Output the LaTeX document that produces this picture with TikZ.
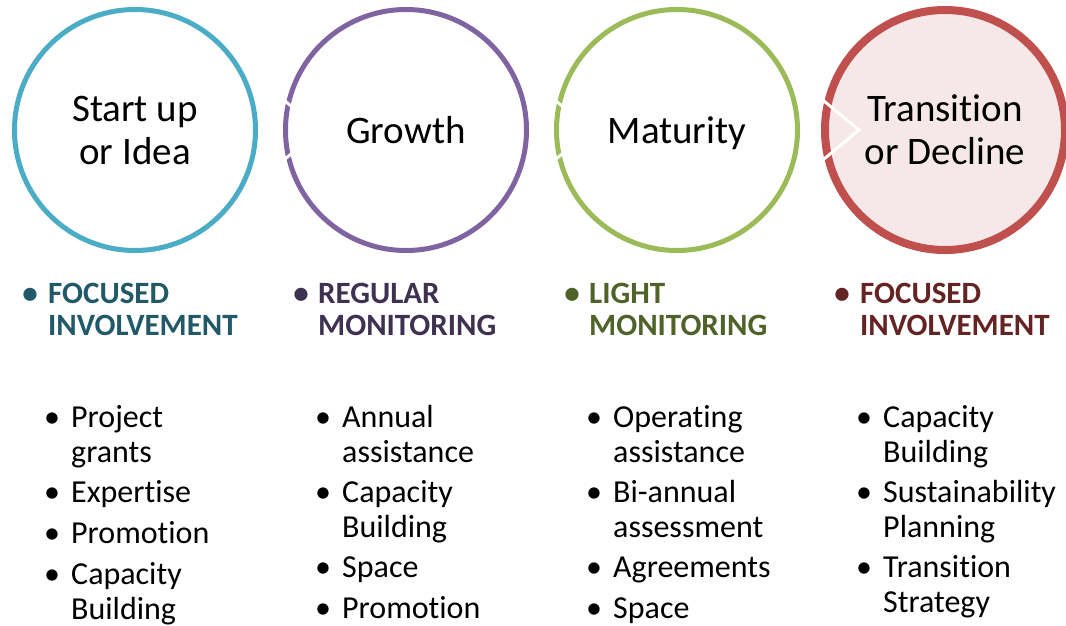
\documentclass[tikz,border=0pt]{standalone}
\usepackage{fontspec}
\setmainfont{Carlito}[Ligatures=NoCommon]
\usetikzlibrary{calc}
\definecolor{cteal}{HTML}{4BACC6}
\definecolor{cpurple}{HTML}{8064A2}
\definecolor{cgreen}{HTML}{9BBB59}
\definecolor{cred}{HTML}{C0504D}
\definecolor{dteal}{HTML}{215968}
\definecolor{dpurple}{HTML}{3F3151}
\definecolor{dgreen}{HTML}{4F6228}
\definecolor{dred}{HTML}{632423}
\definecolor{pinkfill}{HTML}{F6E8E8}
\begin{document}
\begin{tikzpicture}[x=1pt,y=-1pt,
  circ/.style={circle, inner sep=0pt, minimum size=241pt, align=center,
    font=\fontsize{39}{43}\selectfont, line width=5pt},
  chev/.style={white, line width=3pt},
  head/.style={anchor=base west, align=left, inner sep=0pt,
    font=\fontsize{31}{32}\selectfont\bfseries},
  hdot/.style={anchor=base, inner sep=0pt, font=\fontsize{31}{32}\selectfont\bfseries},
  itemtext/.style={anchor=base west, align=left, inner sep=0pt,
    font=\fontsize{32}{35}\selectfont},
  idot/.style={anchor=base, inner sep=0pt, font=\fontsize{32}{35}\selectfont}]
\useasboundingbox[fill=white] (0,0) rectangle (1066,625);

% circles
\node[circ, draw=cteal] (c1) at (135,130) {Start up\\or Idea};
\node[circ, draw=cpurple] (c2) at (406,130) {Growth};
\node[circ, draw=cgreen] (c3) at (677,130) {\raisebox{0pt}[\height][0pt]{Maturity}};
\node[circ, draw=cred, fill=pinkfill, line width=8pt, minimum size=240pt] (c4) at (945,130) {Transition\\or Decline};

% chevron cut lines
\foreach \c in {c2,c3,c4}{
  \draw[chev] ($(\c.center)+(-127,-34)$) -- ($(\c.center)+(-86,0)$) -- ($(\c.center)+(-127,34)$);
}

% headings (base anchor = baseline of last line)
\node[hdot, text=dteal] (h1d) at (30,303) {•};
\node[head, text=dteal] (h1) at (48,335) {FOCUSED\\INVOLVEMENT};
\node[hdot, text=dpurple] (h2d) at (301,303) {•};
\node[head, text=dpurple] (h2) at (318,335) {REGULAR\\MONITORING};
\node[hdot, text=dgreen] (h3d) at (572,303) {•};
\node[head, text=dgreen] (h3) at (589,335) {LIGHT\\MONITORING};
\node[hdot, text=dred] (h4d) at (842,303) {•};
\node[head, text=dred] (h4) at (860,335) {FOCUSED\\INVOLVEMENT};

% column 1
\node[idot] (a1d) at (52,427) {•};
\node[itemtext] (a1) at (71,462) {Project\\grants};
\node[idot] (a2d) at (52,502) {•};
\node[itemtext] (a2) at (71,502) {Expertise};
\node[idot] (a3d) at (52,543) {•};
\node[itemtext] (a3) at (71,543) {Promotion};
\node[idot] (a4d) at (52,584) {•};
\node[itemtext] (a4) at (71,619) {Capacity\\Building};

% column 2
\node[idot] (b1d) at (323,427) {•};
\node[itemtext] (b1) at (342,462) {Annual\\assistance};
\node[idot] (b2d) at (323,502) {•};
\node[itemtext] (b2) at (342,537) {Capacity\\Building};
\node[idot] (b3d) at (323,577) {•};
\node[itemtext] (b3) at (342,577) {Space};
\node[idot] (b4d) at (323,618) {•};
\node[itemtext] (b4) at (342,618) {Promotion};

% column 3
\node[idot] (e1d) at (594,427) {•};
\node[itemtext] (e1) at (613,462) {Operating\\assistance};
\node[idot] (e2d) at (594,502) {•};
\node[itemtext] (e2) at (613,537) {Bi-annual\\assessment};
\node[idot] (e3d) at (594,577) {•};
\node[itemtext] (e3) at (613,577) {Agreements};
\node[idot] (e4d) at (594,618) {•};
\node[itemtext] (e4) at (613,618) {Space};

% column 4
\node[idot] (f1d) at (864,427) {•};
\node[itemtext] (f1) at (883,462) {Capacity\\Building};
\node[idot] (f2d) at (864,502) {•};
\node[itemtext] (f2) at (883,537) {Sustainability\\Planning};
\node[idot] (f3d) at (864,577) {•};
\node[itemtext] (f3) at (883,612) {Transition\\Strategy};
\end{tikzpicture}
\end{document}
